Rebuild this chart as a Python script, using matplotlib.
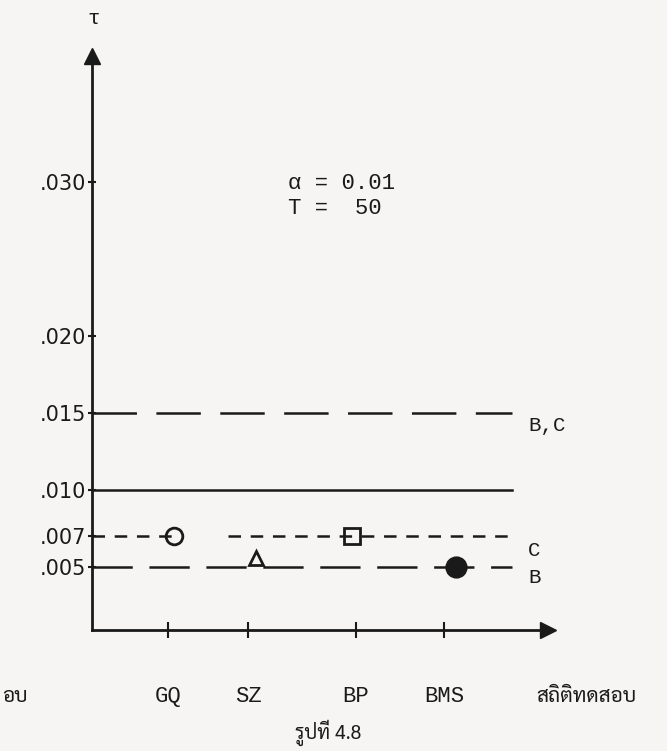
import numpy as np
import matplotlib.pyplot as plt
from matplotlib import font_manager

plt.rcParams['lines.scale_dashes'] = False

# data
tests = ['GQ', 'SZ', 'BP', 'BMS']
test_pos = [0.95, 1.95, 3.3, 4.4]
tick_vals = [0.005, 0.007, 0.010, 0.015, 0.020, 0.030]
tick_labels = ['.005', '.007', '.010', '.015', '.020', '.030']

line_B_C = 0.015
line_alpha = 0.010
line_C = 0.007
line_B = 0.005

marker_x = [1.02, 2.05, 3.25, 4.55]
marker_y = [0.007, 0.0056, 0.007, 0.005]
marker_style = ['o', '^', 's', 'o']
marker_fill = ['none', 'none', 'none', '#1a1a1a']
marker_size = [12, 10, 11, 14]

ink = '#1a1a1a'
mono = ['Liberation Mono', 'DejaVu Sans Mono']

# pick a font with Thai glyphs
names = {f.name for f in font_manager.fontManager.ttflist}
thai_pref = ['Tlwg Typewriter', 'TlwgTypewriter', 'Tlwg Mono', 'Sarabun',
             'Noto Sans Thai', 'Noto Serif Thai', 'Garuda', 'Loma', 'Kinnari',
             'Athiti', 'Bai Jamjuree']
thai = [n for n in thai_pref if n in names][:1] + ['DejaVu Sans']

fig = plt.figure(figsize=(6.67, 7.51), dpi=100)
fig.patch.set_facecolor('#f6f5f3')
ax = fig.add_axes([0, 0, 1, 1])
ax.set_facecolor('none')

# pixel-like mapping: x_px = 92 + 80*x, y_px = 644 - 15400*y
ax.set_xlim(-92 / 80, (667 - 92) / 80)
ax.set_ylim((644 - 751) / 15400, 644 / 15400)

y0 = 0.0009
x_end = 5.25
x_arrow = 5.7
y_arrow = 0.0382

for s in ['top', 'right']:
    ax.spines[s].set_visible(False)
ax.spines['left'].set_position(('data', 0))
ax.spines['bottom'].set_position(('data', y0))
ax.spines['left'].set_bounds(y0, y_arrow)
ax.spines['bottom'].set_bounds(0, x_arrow)
for s in ['left', 'bottom']:
    ax.spines[s].set_linewidth(2)
    ax.spines[s].set_color(ink)

ax.set_yticks(tick_vals)
ax.set_yticklabels(tick_labels)
ax.set_xticks(test_pos)
ax.set_xticklabels(tests)
ax.tick_params(axis='y', direction='inout', length=6, width=1.5, colors=ink,
               labelsize=15, pad=1)
ax.tick_params(axis='x', direction='inout', length=12, width=1.5, colors=ink,
               labelsize=16, pad=34)
for lab in ax.get_xticklabels():
    lab.set_family(mono)

# arrow heads
ax.plot(0, y_arrow, marker='^', ms=11, color=ink, clip_on=False)
ax.plot(x_arrow, y0, marker='>', ms=11, color=ink, clip_on=False)

# reference lines
ax.plot([0, x_end], [line_B_C, line_B_C], color=ink, lw=1.8, dashes=(32, 14))
ax.plot([0, x_end], [line_alpha, line_alpha], color=ink, lw=1.8)
ax.plot([0, 1.1], [line_C, line_C], color=ink, lw=1.8, dashes=(9, 7))
ax.plot([1.7, x_end], [line_C, line_C], color=ink, lw=1.8, dashes=(9, 7))
ax.plot([0, x_end], [line_B, line_B], color=ink, lw=1.8, dashes=(29, 12))

for xm, ym, mk, fc, ms in zip(marker_x, marker_y, marker_style, marker_fill,
                              marker_size):
    ax.plot(xm, ym, marker=mk, ms=ms, mfc=fc, mec=ink, mew=2, color=ink,
            linestyle='none')

ax.text(x_end + 0.2, line_B_C - 0.0008, 'B,C', family=mono, fontsize=15,
        color=ink, va='center')
ax.text(x_end + 0.2, line_C - 0.0009, 'C', family=mono, fontsize=15,
        color=ink, va='center')
ax.text(x_end + 0.2, line_B - 0.0007, 'B', family=mono, fontsize=15,
        color=ink, va='center')

ax.text(2.45, 0.0291, 'α = 0.01\nT =  50', family=mono, fontsize=16,
        color=ink, va='center', linespacing=1.25)
ax.text(0.02, 0.0406, 'τ', family=mono, fontsize=15, color=ink,
        ha='center', va='center')

ax.text(5.55, -0.0034, 'สถิติทดสอบ', family=thai, fontsize=15, color=ink,
        va='center')
ax.text(-0.8, -0.0034, 'อบ', family=thai, fontsize=15, color=ink,
        va='center', ha='right')
ax.text(2.95, -0.0058, 'รูปที่ 4.8', family=thai, fontsize=14, color=ink,
        ha='center', va='center')

fig.savefig('out.png', dpi=100, facecolor=fig.get_facecolor())
